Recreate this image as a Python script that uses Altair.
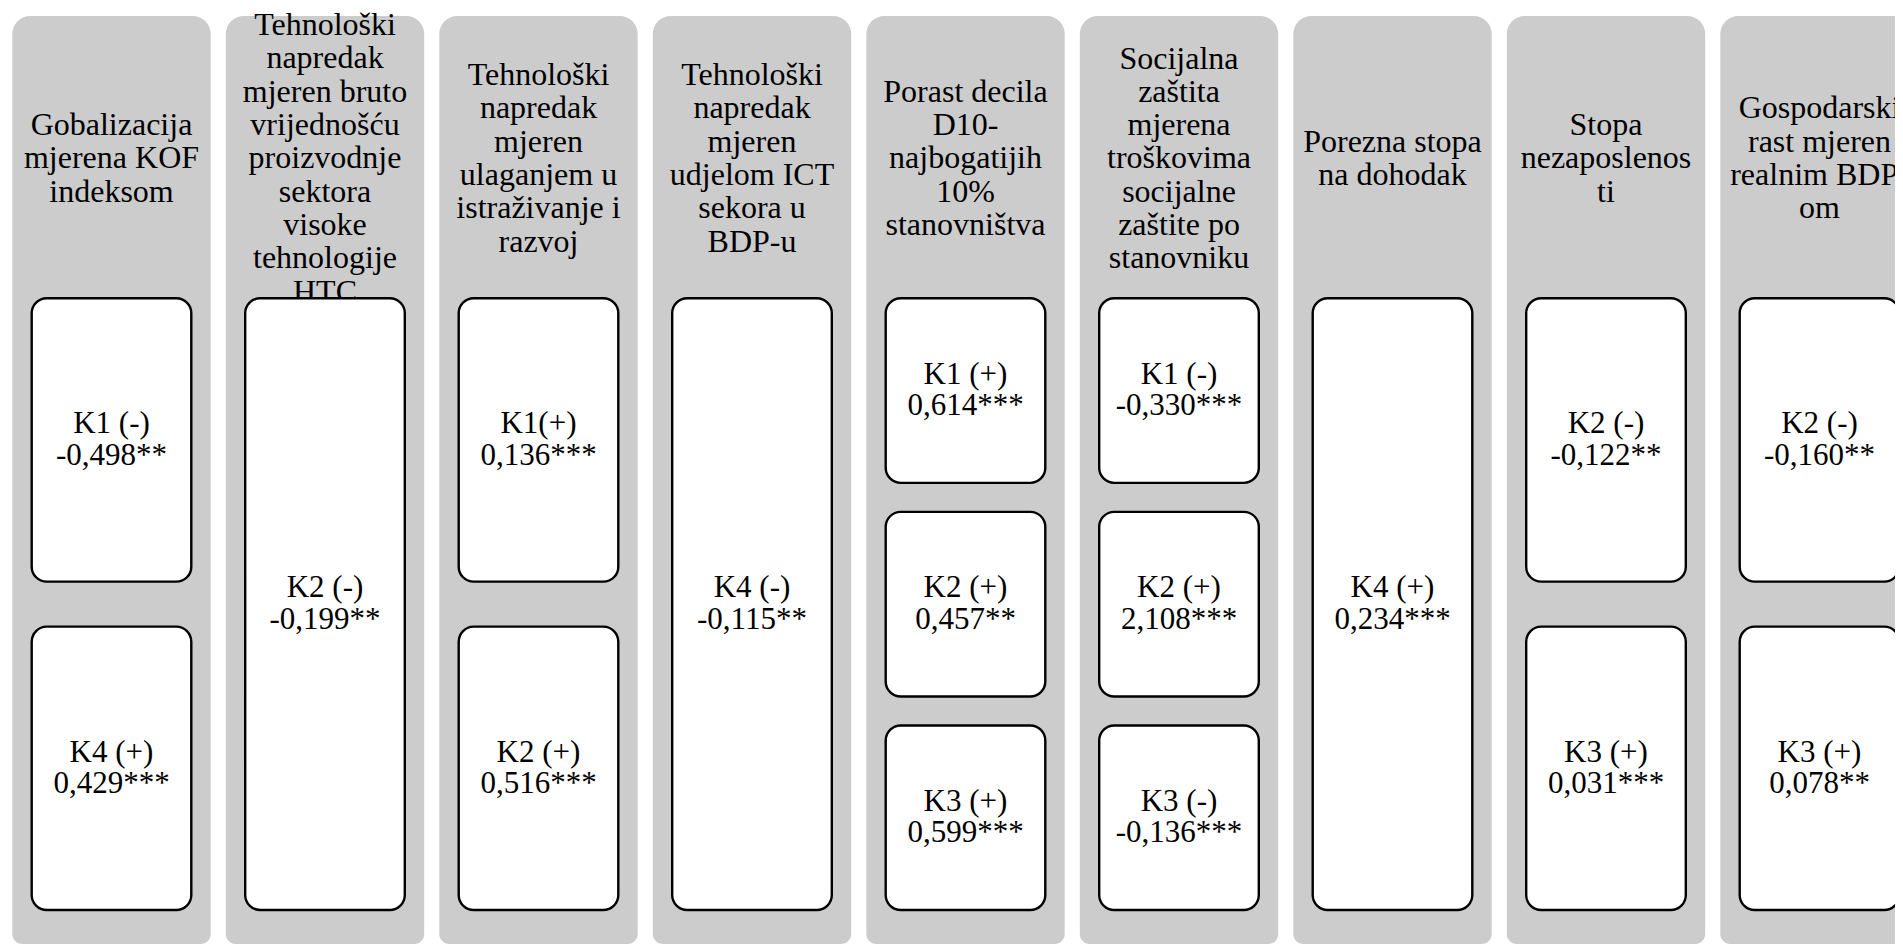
import altair as alt
import pandas as pd

# ---- content ----
titles = [
    "Gobalizacija\nmjerena KOF\nindeksom",
    "Tehnološki\nnapredak\nmjeren bruto\nvrijednošću\nproizvodnje\nsektora\nvisoke\ntehnologije\nHTC",
    "Tehnološki\nnapredak\nmjeren\nulaganjem u\nistraživanje i\nrazvoj",
    "Tehnološki\nnapredak\nmjeren\nudjelom ICT\nsekora u\nBDP-u",
    "Porast decila\nD10-\nnajbogatijih\n10%\nstanovništva",
    "Socijalna\nzaštita\nmjerena\ntroškovima\nsocijalne\nzaštite po\nstanovniku",
    "Porezna stopa\nna dohodak",
    "Stopa\nnezaposlenos\nti",
    "Gospodarski\nrast mjeren\nrealnim BDP-\nom",
]
box_codes = [
    ["K1 (-)", "K4 (+)"],
    ["K2 (-)"],
    ["K1(+)", "K2 (+)"],
    ["K4 (-)"],
    ["K1 (+)", "K2 (+)", "K3 (+)"],
    ["K1 (-)", "K2 (+)", "K3 (-)"],
    ["K4 (+)"],
    ["K2 (-)", "K3 (+)"],
    ["K2 (-)", "K3 (+)"],
]
box_values = [
    ["-0,498**", "0,429***"],
    ["-0,199**"],
    ["0,136***", "0,516***"],
    ["-0,115**"],
    ["0,614***", "0,457**", "0,599***"],
    ["-0,330***", "2,108***", "-0,136***"],
    ["0,234***"],
    ["-0,122**", "0,031***"],
    ["-0,160**", "0,078**"],
]

# ---- layout / style constants ----
W, H = 1887, 936
PITCH = 213.5          # px per column
X_OFF = 4.3            # left offset of first column
COL_FRAC = 198.4 / PITCH
INSET_FRAC = 19.4 / PITCH
GRAY_TOP, GRAY_BOT = 8, H
BOX_TOP, BOX_BOT = 290.3, 902
TITLE_Y = 150.4
TITLE_LH = 33.3
LABEL_LH = 31.5
GAPS = {1: 0, 2: 45, 3: 29}
GRAY = "#CCCCCC"
FONT = "Liberation Serif, Tinos, Times New Roman, DejaVu Serif, serif"

cols = pd.DataFrame({"i": range(len(titles)), "title": titles})
cols["x0"] = cols["i"]
cols["x1"] = cols["i"] + COL_FRAC
cols["xc"] = cols["i"] + COL_FRAC / 2
cols["y0"] = GRAY_TOP
cols["y1"] = GRAY_BOT
nlines = cols["title"].str.count("\n")
cols["ty"] = TITLE_Y - nlines * TITLE_LH / 2

rows = []
for i, (codes, vals) in enumerate(zip(box_codes, box_values)):
    n = len(codes)
    g = GAPS[n]
    h = (BOX_BOT - BOX_TOP - g * (n - 1)) / n
    for k, (c, v) in enumerate(zip(codes, vals)):
        top = BOX_TOP + k * (h + g)
        rows.append({
            "i": i, "label": c + "\n" + v,
            "bx0": i + INSET_FRAC, "bx1": i + COL_FRAC - INSET_FRAC,
            "bxc": i + COL_FRAC / 2,
            "by0": top, "by1": top + h,
            "byc": top + h / 2 - LABEL_LH / 2,
        })
boxes = pd.DataFrame(rows)

xs = alt.Scale(domain=[-X_OFF / PITCH, (W - X_OFF) / PITCH], range=[0, W], nice=False, zero=False)
ys = alt.Scale(domain=[0, H], range=[0, H], nice=False, zero=False)

gray = alt.Chart(cols).mark_rect(
    cornerRadiusTopLeft=18, cornerRadiusTopRight=18,
    cornerRadiusBottomLeft=10, cornerRadiusBottomRight=10,
    color=GRAY,
).encode(
    x=alt.X("x0:Q", scale=xs, axis=None),
    x2="x1:Q",
    y=alt.Y("y0:Q", scale=ys, axis=None),
    y2="y1:Q",
)

title_text = alt.Chart(cols).mark_text(
    font=FONT, fontSize=32, lineHeight=TITLE_LH, lineBreak="\n",
    align="center", baseline="middle", color="black",
).encode(
    x=alt.X("xc:Q", scale=xs, axis=None),
    y=alt.Y("ty:Q", scale=ys, axis=None),
    text="title:N",
)

box_rect = alt.Chart(boxes).mark_rect(
    cornerRadius=15, fill="white", stroke="black", strokeWidth=2.4,
).encode(
    x=alt.X("bx0:Q", scale=xs, axis=None),
    x2="bx1:Q",
    y=alt.Y("by0:Q", scale=ys, axis=None),
    y2="by1:Q",
)

box_text = alt.Chart(boxes).mark_text(
    font=FONT, fontSize=31, lineHeight=LABEL_LH, lineBreak="\n",
    align="center", baseline="middle", color="black",
).encode(
    x=alt.X("bxc:Q", scale=xs, axis=None),
    y=alt.Y("byc:Q", scale=ys, axis=None),
    text="label:N",
)

chart = alt.layer(gray, title_text, box_rect, box_text).properties(
    width=W, height=H,
    autosize=alt.AutoSizeParams(type="none"),
    padding=0,
).configure_view(stroke=None)

chart.save("out.html", embed_options={"renderer": "svg", "actions": False})
